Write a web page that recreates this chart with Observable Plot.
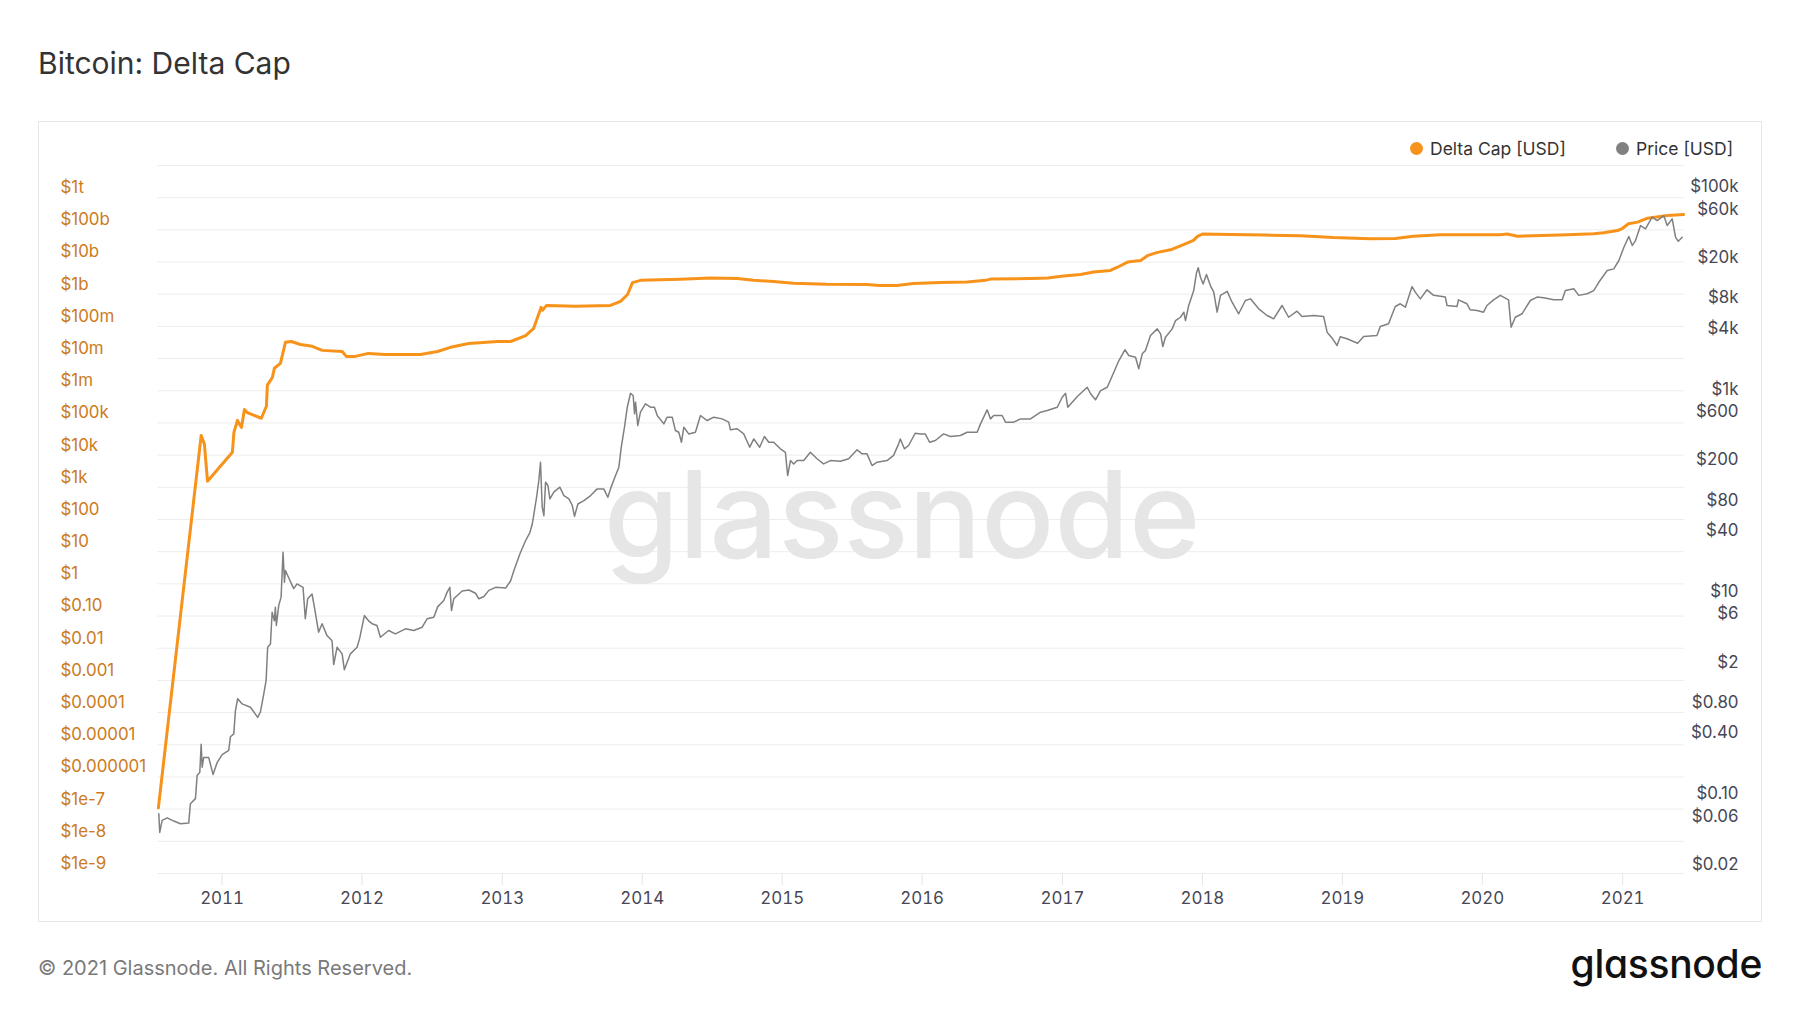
<!DOCTYPE html>
<html>
<head>
<meta charset="utf-8">
<script src="https://cdn.jsdelivr.net/npm/d3@7"></script>
<script src="https://cdn.jsdelivr.net/npm/@observablehq/plot@0.6"></script>
<style>
  html, body { margin: 0; padding: 0; background: #fff; }
  body { width: 1800px; height: 1013px; position: relative; overflow: hidden; font-family: Inter, "Noto Sans", sans-serif; }
  #title { position: absolute; left: 38px; top: 43px; font-size: 30px; line-height: 40px; color: #333; white-space: nowrap; }
  #charts { position: absolute; left: 38px; top: 121px; width: 1724px; height: 800px; }
  #charts svg { position: absolute; left: 0; top: 0; }
  #frame { position: absolute; left: 38px; top: 121px; width: 1724px; height: 801px; border: 1.5px solid #e6e6e6; box-sizing: border-box; background: none; pointer-events: none; }
  .leg { position: absolute; top: 137px; height: 24px; line-height: 24px; font-size: 17.5px; color: #333; white-space: nowrap; }
  .dot { position: absolute; width: 13px; height: 13px; border-radius: 50%; top: 142px; }
  #copy { position: absolute; left: 38px; top: 956px; font-size: 20px; line-height: 24px; color: #7a7a7a; white-space: nowrap; }
  #logo { position: absolute; right: 38px; top: 944px; font-size: 39px; line-height: 39px; font-weight: 500; color: #111; letter-spacing: -0.3px; font-feature-settings: "cv11"; }
  g[aria-label="watermark"] text { font-feature-settings: "cv11"; }
</style>
</head>
<body>
<div id="title">Bitcoin: Delta Cap</div>
<div id="charts"></div>
<div id="frame"></div>
<div class="dot" style="left:1410px;background:#f7931a"></div>
<div class="leg" style="left:1430px">Delta Cap [USD]</div>
<div class="dot" style="left:1616px;background:#808080"></div>
<div class="leg" style="left:1636px">Price [USD]</div>
<div id="copy">© 2021 Glassnode. All Rights Reserved.</div>
<div id="logo">glassnode</div>
<script>
// ---- data (dates as decimal years) ----
const deltaCap = [
  [2010.545, 1.1e-7], [2010.851, 4.1e4], [2010.874, 2.2e4], [2010.896, 1.55e3],
  [2011.074, 1.23e4], [2011.085, 5.1e4], [2011.110, 1.2e5], [2011.139, 7.2e4],
  [2011.160, 2.6e5], [2011.181, 2.1e5], [2011.281, 1.4e5], [2011.317, 3.3e5],
  [2011.324, 1.5e6], [2011.360, 2.6e6], [2011.374, 5.0e6], [2011.417, 7.1e6],
  [2011.431, 1.26e7], [2011.453, 3.2e7], [2011.495, 3.4e7], [2011.560, 2.75e7],
  [2011.645, 2.4e7], [2011.716, 1.8e7], [2011.859, 1.66e7], [2011.888, 1.17e7],
  [2011.952, 1.17e7], [2012.045, 1.45e7], [2012.167, 1.35e7], [2012.417, 1.35e7],
  [2012.538, 1.66e7], [2012.631, 2.24e7], [2012.760, 2.95e7], [2012.967, 3.4e7],
  [2013.060, 3.4e7], [2013.167, 5.2e7], [2013.224, 8.7e7], [2013.277, 3.9e8],
  [2013.288, 3.2e8], [2013.316, 4.5e8], [2013.523, 4.2e8], [2013.773, 4.5e8],
  [2013.845, 6.0e8], [2013.895, 9.8e8], [2013.930, 2.3e9], [2013.988, 2.7e9],
  [2014.273, 2.9e9], [2014.487, 3.2e9], [2014.680, 3.1e9], [2014.794, 2.7e9],
  [2014.937, 2.5e9], [2015.080, 2.2e9], [2015.318, 2.04e9], [2015.604, 2.0e9],
  [2015.697, 1.86e9], [2015.818, 1.86e9], [2015.937, 2.14e9], [2016.130, 2.3e9],
  [2016.322, 2.4e9], [2016.451, 2.7e9], [2016.487, 2.95e9], [2016.773, 3.1e9],
  [2016.894, 3.2e9], [2017.008, 3.7e9], [2017.129, 4.1e9], [2017.222, 4.9e9],
  [2017.343, 5.5e9], [2017.393, 6.9e9], [2017.465, 1.0e10], [2017.558, 1.12e10],
  [2017.607, 1.58e10], [2017.679, 2.0e10], [2017.772, 2.4e10], [2017.865, 3.5e10],
  [2017.936, 4.7e10], [2017.965, 6.3e10], [2018.000, 7.4e10], [2018.200, 7.2e10],
  [2018.450, 6.9e10], [2018.700, 6.6e10], [2018.936, 5.75e10], [2019.200, 5.25e10],
  [2019.378, 5.4e10], [2019.507, 6.3e10], [2019.700, 7.1e10], [2020.128, 7.1e10],
  [2020.178, 7.4e10], [2020.250, 6.3e10], [2020.364, 6.6e10], [2020.607, 7.1e10],
  [2020.793, 7.6e10], [2020.864, 8.1e10], [2020.964, 9.5e10], [2021.000, 1.12e11],
  [2021.042, 1.55e11], [2021.107, 1.74e11], [2021.178, 2.3e11], [2021.321, 2.8e11],
  [2021.436, 3.0e11]
];

const price = [
  [2010.548, 0.078], [2010.555, 0.051], [2010.572, 0.067], [2010.608, 0.071], [2010.655, 0.066],
  [2010.703, 0.062], [2010.762, 0.063], [2010.774, 0.098], [2010.810, 0.11], [2010.822, 0.186],
  [2010.841, 0.20], [2010.851, 0.38], [2010.858, 0.225], [2010.869, 0.28], [2010.905, 0.28],
  [2010.936, 0.19], [2010.965, 0.25], [2011.001, 0.30], [2011.048, 0.33], [2011.060, 0.45],
  [2011.084, 0.48], [2011.096, 0.82], [2011.112, 1.07], [2011.144, 0.95], [2011.203, 0.88],
  [2011.255, 0.70], [2011.274, 0.79], [2011.298, 1.19], [2011.315, 1.62], [2011.326, 3.45],
  [2011.346, 3.72], [2011.358, 7.65], [2011.374, 6.3], [2011.381, 8.6], [2011.388, 5.67],
  [2011.405, 8.9], [2011.422, 10.8], [2011.436, 30], [2011.446, 15.2], [2011.453, 19.8],
  [2011.469, 17.7], [2011.512, 13.1], [2011.536, 14.6], [2011.579, 13.5], [2011.595, 6.6],
  [2011.612, 10.4], [2011.643, 11.6], [2011.662, 8.3], [2011.690, 4.86], [2011.715, 5.9],
  [2011.750, 4.5], [2011.786, 4.0], [2011.798, 2.33], [2011.822, 3.45], [2011.858, 2.97],
  [2011.874, 2.07], [2011.917, 2.97], [2011.965, 3.45], [2011.983, 4.2], [2012.017, 7.1],
  [2012.047, 6.3], [2012.072, 5.9], [2012.107, 5.67], [2012.131, 4.33], [2012.190, 5.05],
  [2012.238, 4.68], [2012.310, 5.25], [2012.369, 5.05], [2012.429, 5.45], [2012.464, 6.6],
  [2012.512, 6.84], [2012.540, 8.7], [2012.583, 10], [2012.607, 12.1], [2012.626, 13.5],
  [2012.638, 7.96], [2012.654, 10.4], [2012.714, 12.4], [2012.762, 12.7], [2012.809, 11.8],
  [2012.833, 10.4], [2012.869, 10.96], [2012.904, 12.6], [2012.952, 13.5], [2013.024, 13.3],
  [2013.059, 15.6], [2013.083, 19.8], [2013.126, 29], [2013.166, 39], [2013.197, 47],
  [2013.214, 57], [2013.226, 72], [2013.245, 105], [2013.261, 154], [2013.273, 233],
  [2013.285, 84], [2013.297, 69], [2013.309, 148], [2013.326, 137], [2013.340, 101],
  [2013.368, 118], [2013.411, 132], [2013.440, 109], [2013.476, 101], [2013.500, 87],
  [2013.516, 68], [2013.540, 90], [2013.583, 97], [2013.631, 109], [2013.678, 127],
  [2013.725, 127], [2013.754, 105], [2013.773, 127], [2013.809, 172], [2013.833, 208],
  [2013.850, 328], [2013.873, 517], [2013.893, 815], [2013.916, 1120], [2013.935, 1065],
  [2013.945, 701], [2013.952, 914], [2013.968, 537], [2013.987, 728], [2014.023, 880],
  [2014.059, 815], [2014.087, 815], [2014.107, 675], [2014.154, 558], [2014.178, 650],
  [2014.214, 650], [2014.237, 480], [2014.261, 461], [2014.280, 367], [2014.297, 517],
  [2014.332, 444], [2014.380, 461], [2014.416, 675], [2014.464, 602], [2014.511, 650],
  [2014.571, 625], [2014.618, 580], [2014.630, 487], [2014.678, 499], [2014.725, 444],
  [2014.768, 328], [2014.797, 396], [2014.839, 328], [2014.873, 419], [2014.904, 367],
  [2014.939, 367], [2014.987, 316], [2015.023, 292], [2015.039, 172], [2015.059, 242],
  [2015.082, 224], [2015.106, 242], [2015.154, 242], [2015.201, 292], [2015.249, 252],
  [2015.296, 224], [2015.344, 242], [2015.416, 238], [2015.475, 252], [2015.535, 309],
  [2015.571, 282], [2015.606, 282], [2015.642, 216], [2015.678, 233], [2015.749, 242],
  [2015.796, 272], [2015.832, 354], [2015.844, 396], [2015.873, 316], [2015.903, 341],
  [2015.951, 451], [2015.987, 444], [2016.022, 444], [2016.053, 367], [2016.094, 382],
  [2016.153, 444], [2016.201, 419], [2016.273, 428], [2016.320, 461], [2016.392, 461],
  [2016.416, 558], [2016.463, 768], [2016.487, 625], [2016.510, 675], [2016.570, 675],
  [2016.594, 580], [2016.653, 580], [2016.701, 625], [2016.772, 625], [2016.844, 728],
  [2016.891, 757], [2016.963, 815], [2016.998, 1023], [2017.022, 1120], [2017.038, 815],
  [2017.106, 1040], [2017.177, 1285], [2017.201, 1107], [2017.236, 965], [2017.272, 1191],
  [2017.320, 1285], [2017.367, 1808], [2017.403, 2360], [2017.446, 3013], [2017.474, 2644],
  [2017.522, 2543], [2017.545, 1954], [2017.570, 2748], [2017.593, 2965], [2017.629, 4170],
  [2017.677, 4850], [2017.701, 4330], [2017.717, 3245], [2017.736, 4010], [2017.784, 4850],
  [2017.808, 5860], [2017.843, 6320], [2017.867, 7090], [2017.879, 5860], [2017.902, 8260],
  [2017.938, 11600], [2017.957, 17200], [2017.970, 19500], [2017.986, 15700], [2018.005, 13500],
  [2018.029, 16700], [2018.057, 13000], [2018.081, 11200], [2018.105, 7090], [2018.129, 10400],
  [2018.177, 11400], [2018.212, 8900], [2018.259, 6840], [2018.307, 9250], [2018.343, 9610],
  [2018.402, 7660], [2018.462, 6580], [2018.509, 6100], [2018.569, 8260], [2018.616, 6320],
  [2018.676, 7260], [2018.712, 6430], [2018.795, 6580], [2018.866, 6430], [2018.891, 4500],
  [2018.926, 3950], [2018.962, 3320], [2018.985, 4050], [2019.033, 3870], [2019.109, 3500],
  [2019.152, 4070], [2019.247, 4170], [2019.271, 5120], [2019.330, 5440], [2019.378, 8070],
  [2019.414, 8590], [2019.450, 7940], [2019.498, 12700], [2019.521, 11200], [2019.557, 9610],
  [2019.605, 11800], [2019.652, 10400], [2019.736, 10000], [2019.748, 8260], [2019.819, 8070],
  [2019.830, 9400], [2019.890, 8590], [2019.914, 7480], [2019.962, 7360], [2020.009, 7090],
  [2020.033, 8260], [2020.080, 9400], [2020.128, 10400], [2020.187, 9400], [2020.205, 5040],
  [2020.235, 6320], [2020.283, 6840], [2020.342, 9250], [2020.390, 10000], [2020.437, 9840],
  [2020.509, 9400], [2020.569, 9400], [2020.592, 11600], [2020.652, 12100], [2020.687, 10400],
  [2020.747, 10800], [2020.794, 11600], [2020.830, 14000], [2020.890, 18300], [2020.937, 19000],
  [2020.973, 23000], [2021.009, 31100], [2021.044, 39700], [2021.069, 32400], [2021.092, 36200],
  [2021.128, 51000], [2021.163, 47300], [2021.211, 61700], [2021.247, 57100], [2021.294, 64000],
  [2021.318, 51000], [2021.354, 59400], [2021.378, 39100], [2021.397, 35600], [2021.426, 39100]
];

const gridValues = [1e13, 1e12, 1e11, 1e10, 1e9, 1e8, 1e7, 1e6, 1e5, 1e4, 1e3, 1e2, 1e1, 1,
  1e-1, 1e-2, 1e-3, 1e-4, 1e-5, 1e-6, 1e-7, 1e-8, 1e-9];
const leftTickValues = [1e12, 1e11, 1e10, 1e9, 1e8, 1e7, 1e6, 1e5, 1e4, 1e3, 1e2, 1e1, 1,
  1e-1, 1e-2, 1e-3, 1e-4, 1e-5, 1e-6, 1e-7, 1e-8, 1e-9];
const leftTickLabels = ["$1t", "$100b", "$10b", "$1b", "$100m", "$10m", "$1m", "$100k", "$10k", "$1k",
  "$100", "$10", "$1", "$0.10", "$0.01", "$0.001", "$0.0001", "$0.00001", "$0.000001", "$1e-7", "$1e-8", "$1e-9"];
const rightTickValues = [100000, 60000, 20000, 8000, 4000, 1000, 600, 200, 80, 40, 10, 6, 2, 0.8, 0.4, 0.1, 0.06, 0.02];
const rightTickLabels = ["$100k", "$60k", "$20k", "$8k", "$4k", "$1k", "$600", "$200", "$80", "$40", "$10", "$6", "$2",
  "$0.80", "$0.40", "$0.10", "$0.06", "$0.02"];
const yearTicks = [2011, 2012, 2013, 2014, 2015, 2016, 2017, 2018, 2019, 2020, 2021];
const xStart = 2010.541, xEnd = 2021.442;

// ---- helpers ----
function decYear(t) {
  const y = Math.floor(t);
  const a = Date.UTC(y, 0, 1), b = Date.UTC(y + 1, 0, 1);
  return new Date(a + (t - y) * (b - a));
}
const leftRows = leftTickValues.map((v, i) => ({value: v, label: leftTickLabels[i]}));
const rightRows = rightTickValues.map((v, i) => ({value: v, label: rightTickLabels[i]}));
const deltaRows = deltaCap.map(([t, v]) => ({date: decYear(t), value: v}));
const priceRows = price.map(([t, v]) => ({date: decYear(t), value: v}));

const W = 1724, H = 800;
const FS = 16.9;
const common = {
  width: W, height: H,
  marginLeft: 119.3, marginRight: 78, marginTop: 44, marginBottom: 48,
  x: {type: "utc", domain: [decYear(xStart), decYear(xEnd)], axis: null}
};

const chart1 = Plot.plot({
  ...common,
  style: {background: "white", fontFamily: "Inter, sans-serif", fontSize: FS + "px", overflow: "visible"},
  y: {type: "log", domain: [1e-9, 1e13], axis: null},
  marks: [
    Plot.ruleY(gridValues, {stroke: "#ededed", strokeWidth: 1}),
    Plot.text(["glassnode"], {frameAnchor: "middle", dx: -19, dy: 0, text: d => d,
      fontSize: 121, fontWeight: 500, fill: "#e6e6e6", ariaLabel: "watermark"}),
    Plot.axisX(yearTicks.map(y => new Date(Date.UTC(y, 0, 1))), {
      anchor: "bottom", tickSize: 12, tickPadding: 6, stroke: "#e6e6e6", fill: "#474755",
      tickFormat: d3.utcFormat("%Y"), label: null
    }),
    Plot.text(leftRows, {
      y: "value", text: "label", frameAnchor: "left", textAnchor: "start",
      dx: -97.3, dy: -10, fill: "#cc7a1c", fontSize: FS
    }),
    Plot.line(deltaRows, {x: "date", y: "value", stroke: "#f7931a", strokeWidth: 3, strokeLinejoin: "round"})
  ]
});

const chart2 = Plot.plot({
  ...common,
  style: {background: "transparent", fontFamily: "Inter, sans-serif", fontSize: FS + "px", overflow: "visible"},
  y: {type: "log", domain: [0.02, 200000], axis: null},
  marks: [
    Plot.text(rightRows, {
      y: "value", text: "label", frameAnchor: "right", textAnchor: "end",
      dx: 54, dy: -9, fill: "#474755", fontSize: FS
    }),
    Plot.line(priceRows, {x: "date", y: "value", stroke: "#808080", strokeWidth: 1.5, strokeLinejoin: "round"})
  ]
});

const host = document.getElementById("charts");
host.appendChild(chart1);
host.appendChild(chart2);
</script>
</body>
</html>
